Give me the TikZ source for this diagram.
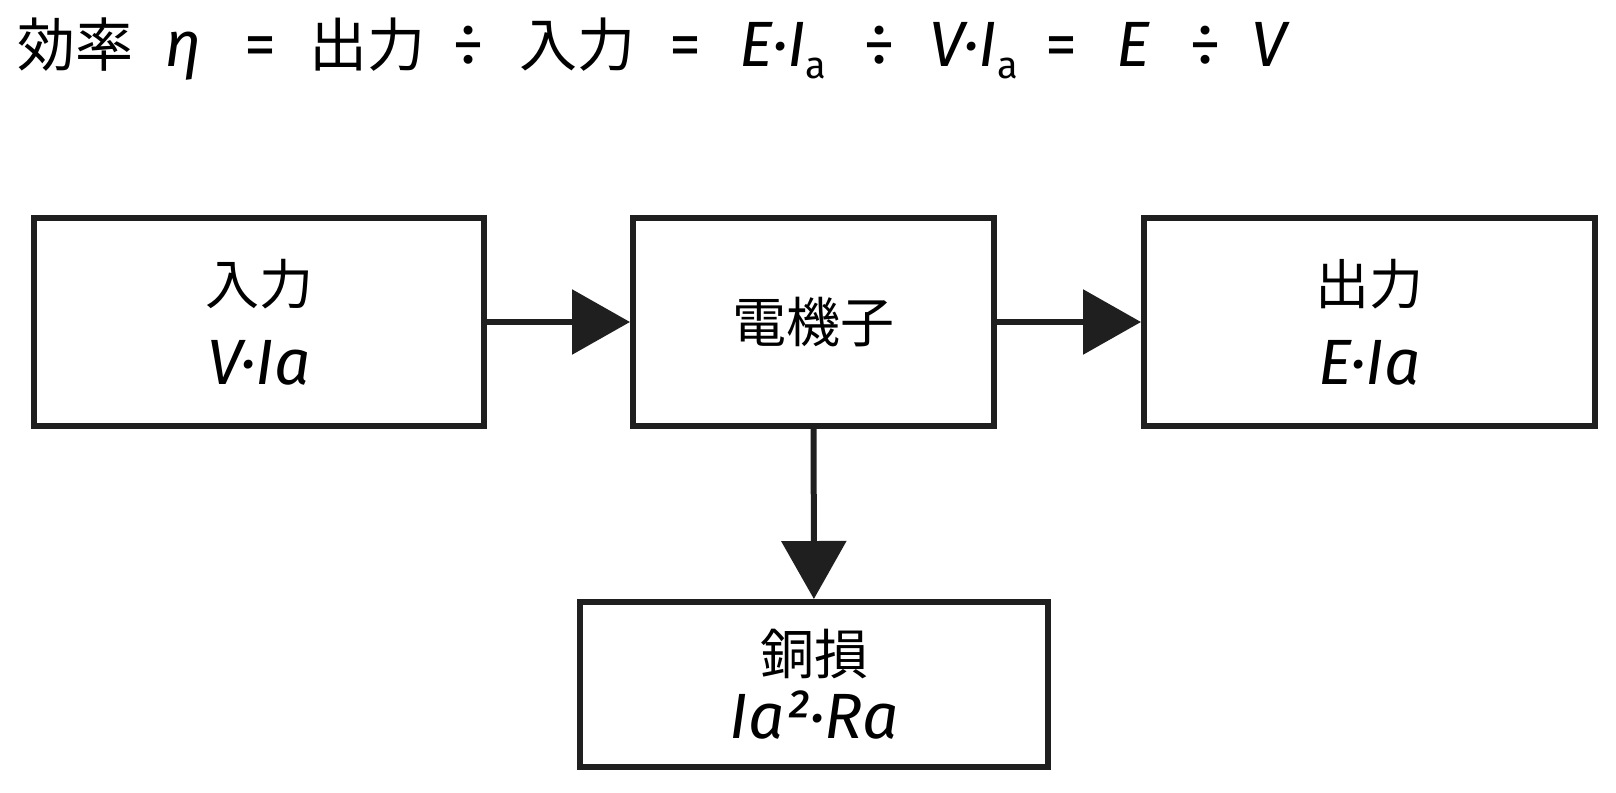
\documentclass[tikz,border=0pt]{standalone}
\usepackage{fontspec}
\setmainfont{Fira Sans}
\newfontfamily\jp{Noto Sans CJK JP}
\usetikzlibrary{arrows.meta,positioning}

\newcommand{\jpt}{\jp\fontsize{29}{36}\selectfont}
\newcommand{\jpb}{\jp\fontsize{27}{40}\selectfont}
\newcommand{\subsa}{\raisebox{-6pt}{\fontsize{19}{19}\selectfont\upshape a}}

\tikzset{
  ttl/.style={anchor=base, inner sep=0pt, font=\fontsize{32}{36}\selectfont},
  blk/.style={draw=black!88, line width=3pt, align=center, inner sep=0pt, font=\fontsize{32}{40}\selectfont\itshape},
  flow/.style={draw=black!88, line width=3pt, -{Triangle[length=29pt,width=32pt]}},
}

\begin{document}
\begin{tikzpicture}[x=0.5pt, y=-0.5pt]
    \useasboundingbox[fill=white] (0,0) rectangle (1616,792);

    % title, one token per node
    \foreach \cx/\tok [count=\k] in {75.5/{\jpt 効率}, 183/{\itshape η}, 260/{=}, 367/{\jpt 出力},
        468.5/{÷}, 577.5/{\jpt 入力}, 685.5/{=}, 783/{\itshape E·I\subsa}, 879/{÷},
        974/{\itshape V·I\subsa}, 1061.5/{=}, 1133.5/{\itshape E}, 1205.5/{÷}, 1269/{\itshape V}}
      \node[ttl] (tt\k) at (\cx,67) {\tok};

    \node[blk, minimum width=225pt, minimum height=104pt] (input) at (259,322)
      {{\jpb 入力}\\V·Ia};
    \node[blk, minimum width=180.5pt, minimum height=104pt] (armature) at (813.5,322)
      {{\jpb 電機子}};
    \node[blk, minimum width=225.5pt, minimum height=104pt] (output) at (1369.5,322)
      {{\jpb 出力}\\E·Ia};
    \node[blk, minimum width=234pt, minimum height=82.5pt, font=\fontsize{32}{32}\selectfont\itshape] (loss) at (814,684.5)
      {{\jpb 銅損}\\Ia²·Ra};

    \draw[flow] (input) -- (armature);
    \draw[flow] (armature) -- (output);
    \draw[flow] (armature) -- (loss);
\end{tikzpicture}
\end{document}
